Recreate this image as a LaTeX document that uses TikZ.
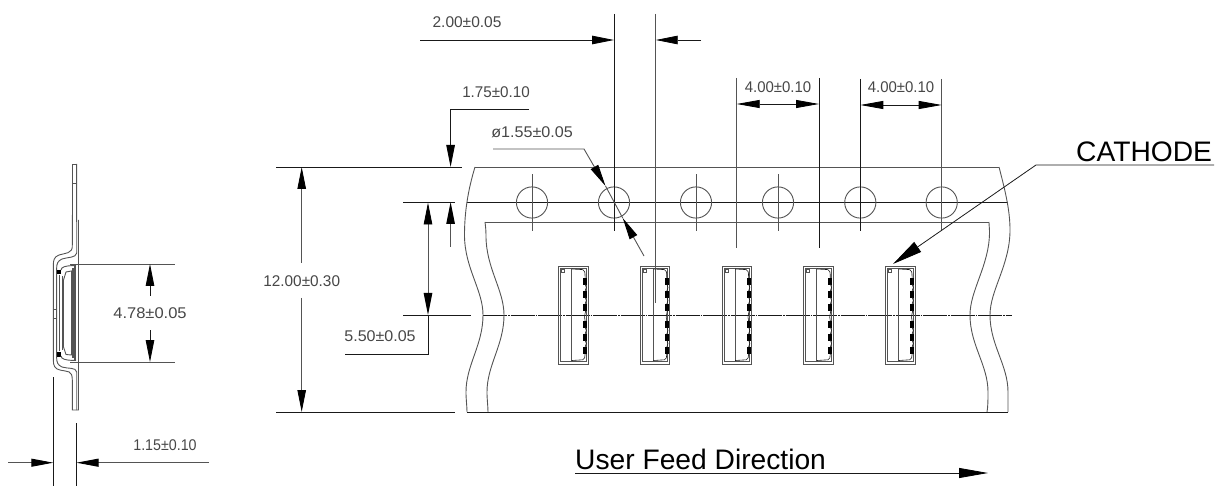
\documentclass[tikz,border=0pt]{standalone}
\usepackage{fontspec}
\usepackage{graphicx}
\setmainfont{Liberation Sans}
\usetikzlibrary{arrows.meta}
\definecolor{ink}{gray}{0.1}
\definecolor{soft}{gray}{0.33}
\definecolor{dimtext}{gray}{0.28}
\newcommand{\dimtxt}[2]{\scalebox{#1}[1]{#2}}
\tikzset{
  ln/.style={draw=ink,line width=0.8pt},
  gl/.style={draw=soft,line width=0.9pt},
  thick gl/.style={draw=soft,line width=1.6pt},
  blackhead/.style={-{Triangle[length=22pt,width=8.5pt,fill=black,color=black]}},
  arr/.style={ln,blackhead},
  arrg/.style={gl,blackhead},
  arrboth/.style={ln,{Triangle[length=23pt,width=8pt,fill=black,color=black]}-{Triangle[length=23pt,width=8pt,fill=black,color=black]}},
  dimlabel/.style={text=dimtext,font=\fontsize{15.5}{15.5}\selectfont,inner sep=0pt,anchor=center},
  biglabel/.style={text=black,font=\fontsize{28.2}{28.2}\selectfont,inner sep=0pt,anchor=base west},
  centreline/.style={draw=ink,line width=0.8pt,dash pattern=on 24pt off 1pt on 1.5pt off 1pt},
}
\begin{document}
\begin{tikzpicture}[x=1pt,y=-1pt]
\useasboundingbox (0,0) rectangle (1226,486);
% ---------- side view ----------
\draw[gl] (72.3,215) -- (72.3,164) -- (76.7,164) -- (76.7,222);
\draw[gl] (72.3,183) -- (76.7,183);
\draw[gl] (72.3,215) -- (72.3,245) .. controls (73,254) and (65,253) .. (59,255)
  .. controls (54,257) and (53.3,260) .. (53.3,266) -- (53.3,360)
  .. controls (53.3,366) and (55,369) .. (60,370) .. controls (68,372) and (72.3,370) .. (72.3,380)
  -- (72.3,410) -- (78.5,410) -- (78.5,220);
\draw[gl] (76.7,164) -- (76.7,253) .. controls (76,258) and (68,257) .. (62,259)
  .. controls (58,261) and (56.6,263) .. (56.6,269) -- (56.6,357)
  .. controls (56.6,363) and (58,365) .. (62,367) .. controls (68,369) and (76,367) .. (76.7,372) -- (76.7,410);
\draw[gl] (53.3,309) rectangle (56.6,318);
\fill[black] (57.4,270) rectangle (61,274.5);
\fill[black] (57.4,352) rectangle (61,356.5);
\draw[gl] (76,265.5) .. controls (70,265.5) and (64,266) .. (62,268) -- (61,270);
\draw[gl] (76,360.5) .. controls (70,360.5) and (64,360) .. (62,358) -- (61,356);
\draw[thick gl] (59.5,275) -- (59.5,351);
\draw[gl] (62,276) -- (62,350);
\draw[gl] (63.5,280) -- (66,272) -- (71.5,271) -- (71.5,355) -- (66,354.5) -- (63.5,347) -- (63.5,280);
\draw[thick gl] (73,268) -- (73,358);
\draw[thick gl] (75.2,266) -- (75.2,360);
\draw[gl] (70,264) -- (175,264);
\draw[gl] (70,362) -- (175,362);
\node[dimlabel] (w478) at (150,313) {\dimtxt{1.065}{4.78±0.05}};
\coordinate (t478a) at (150,264); \coordinate (b478a) at (150,296);
\coordinate (t478b) at (150,362); \coordinate (b478b) at (150,330);
\draw[arr] (b478a) -- (t478a);
\draw[arr] (b478b) -- (t478b);
\draw[ln] (53.3,377) -- (53.3,486);
\draw[ln] (76.5,423) -- (76.5,486);
\draw[gl,-{Triangle[length=22pt,width=8pt,fill=black,color=black]}] (8,462.7) -- (53.3,462.7);
\draw[gl,-{Triangle[length=22pt,width=8pt,fill=black,color=black]}] (209,462.7) -- (76.5,462.7);
\node[dimlabel] (w115) at (165,445) {\dimtxt{0.92}{1.15±0.10}};
% ---------- tape ----------
\draw[ln] (276,167) -- (462,167);
\draw[gl] (475,167) -- (999,167);
\draw[ln] (276,412) -- (455,412);
\draw[ln] (467,412) -- (1008,412);
\draw[gl] (485,222) -- (989,222);
\draw[ln] (403,202) -- (455,202);
\draw[ln] (467,202) -- (1008,202);
\draw[ln] (403,315) -- (471,315);
\draw[centreline] (483,315) -- (1012,315);
% tape edges
\draw[gl] (475,167) .. controls (468,190) and (464.5,212) .. (464.5,235)
  .. controls (464.5,268) and (483,290) .. (483,315)
  .. controls (483,345) and (466,365) .. (466,392) .. controls (466,400) and (467,406) .. (467,412);
\draw[gl] (485,222) .. controls (485.5,226) and (486,230) .. (486,236)
  .. controls (486,268) and (504,290) .. (504,315)
  .. controls (504,345) and (487,365) .. (487,392) .. controls (487,400) and (488,406) .. (488,412);
\draw[gl] (999,167) .. controls (1005,190) and (1010,210) .. (1010,230)
  .. controls (1010,265) and (990,290) .. (990,315)
  .. controls (990,345) and (1008,365) .. (1008,392) .. controls (1008,400) and (1008,406) .. (1008,412);
\draw[gl] (989,222) .. controls (989,226) and (989.5,228) .. (989.5,232)
  .. controls (989.5,265) and (970,290) .. (970,315)
  .. controls (970,345) and (988,365) .. (988,392) .. controls (988,400) and (988,406) .. (987,412);
% holes
\foreach \hx in {532,614,696,778,860.3,941.7}{
  \draw[gl] (\hx,202.5) circle[radius=15.6];
}
\foreach \hx in {532,696,778}{
  \draw[gl] (\hx,174.5) -- (\hx,231);
}
% extension lines
\draw[ln] (614,14) -- (614,231);
\draw[gl] (655.7,14) -- (655.7,303);
\draw[gl] (736.7,78) -- (736.7,248);
\draw[ln] (819,78) -- (819,248);
\draw[ln] (860.3,79) -- (860.3,231);
\draw[gl] (941.7,79) -- (941.7,231);
% components
\foreach \cx in {558.7,640.4,722.2,803.9,885.7}{
\begin{scope}[shift={(\cx,266)}]
  \draw[gl] (0,0) rectangle (29.5,98);
  \draw[gl] (2,2) rectangle (27.5,95.7);
  \draw[draw=soft,line width=0.6pt] (2.6,3.7) rectangle (5.6,6.7);
  \draw[gl] (13,2) -- (13,95.7);
  \draw[draw=ink,line width=0.6pt] (13,3) -- (24,3.6) .. controls (26,4) and (26.4,6) .. (26.4,12);
  \draw[draw=ink,line width=0.6pt] (13,94.5) -- (24,93.8) .. controls (26,93.5) and (26.4,91) .. (26.4,88);
  \foreach \py in {12,25,38,55,68,81}{
    \fill[black] (24.3,\py) rectangle (28.3,\py+7);
  }
  \draw[draw=ink,line width=0.6pt] (26.4,18) .. controls (28,21) and (28,22) .. (26.4,25);
  \draw[draw=ink,line width=0.6pt] (26.4,31) .. controls (28,34) and (28,35) .. (26.4,38);
  \draw[draw=ink,line width=0.6pt] (26.4,44) .. controls (28,46) and (24.5,49) .. (26.4,55);
  \draw[draw=ink,line width=0.6pt] (26.4,61) .. controls (28,64) and (28,65) .. (26.4,68);
  \draw[draw=ink,line width=0.6pt] (26.4,74) .. controls (28,77) and (28,78) .. (26.4,81);
\end{scope}
}
% 2.00
\node[dimlabel] (d200) at (467,22) {2.00±0.05};
\draw[arr] (420,40) -- (614,40);
\draw[arr] (701,40) -- (655.7,40);
% 4.00
\node[dimlabel] (d400a) at (778,87) {\dimtxt{0.965}{4.00±0.10}};
\node[dimlabel] (d400b) at (901,87) {\dimtxt{0.965}{4.00±0.10}};
\draw[arrboth] (736.7,104) -- (819,104);
\draw[arrboth] (860.3,105) -- (941.7,105);
% 1.75
\node[dimlabel] (d175) at (496,92) {\dimtxt{0.98}{1.75±0.10}};
\draw[arr] (529,109) -- (450.6,109) -- (450.6,167);
\draw[arrg] (450.6,247) -- (450.6,202);
% phi
\node[dimlabel] (d155) at (532,132) {\dimtxt{1.04}{ø1.55±0.05}};
\draw[arrg] (493,149) -- (584,149) -- (605.5,186);
\draw[gl] (605.5,186) -- (622.7,218);
\draw[arrg] (644,256) -- (622.7,218);
% 5.50
\node[dimlabel] (d550) at (380,336) {\dimtxt{1.035}{5.50±0.05}};
\draw[gl,{Triangle[length=22pt,width=8.5pt,fill=black,color=black]}-{Triangle[length=22pt,width=8.5pt,fill=black,color=black]}] (428,202.5) -- (428,315);
\draw[ln] (345,354) -- (428,354) -- (428,315);
% 12.00
\node[dimlabel] (d1200) at (301.7,281) {\dimtxt{0.99}{12.00±0.30}};
\draw[arrg] (301.7,263) -- (301.7,167);
\draw[arrg] (301.7,298) -- (301.7,412);
% Cathode
\node[biglabel] (cath) at (1076,162) {CATHODE};
\draw[ln,-{Triangle[length=30pt,width=12pt,fill=black,color=black]}] (1214,165) -- (1036,165) -- (893,264);
% Feed direction
\node[biglabel] (feed) at (575,469) {User Feed Direction};
\draw[ln,-{Triangle[length=29pt,width=10pt,fill=black,color=black]}] (575,473) -- (988,473);
\end{tikzpicture}
\end{document}
